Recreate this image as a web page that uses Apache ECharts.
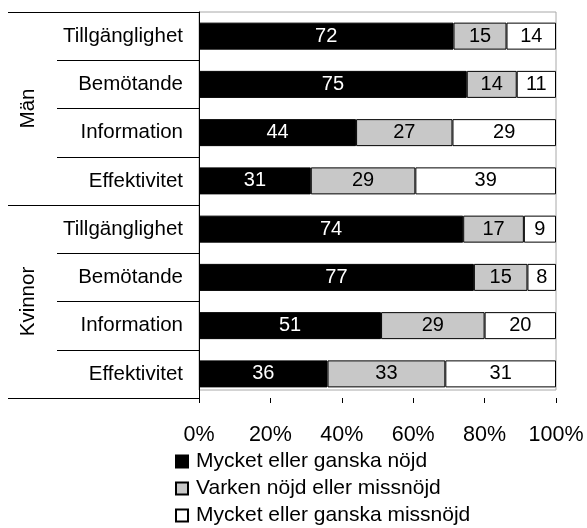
<!DOCTYPE html>
<html>
<head>
<meta charset="utf-8">
<script src="https://cdn.jsdelivr.net/npm/echarts@6/dist/echarts.min.js"></script>
<style>
  html, body { margin: 0; padding: 0; background: #fff; }
  #chart { width: 587px; height: 528px; }
</style>
</head>
<body>
<div id="chart"></div>
<script>
// Survey satisfaction by aspect, men and women (percent of respondents)
const groups = ['Män', 'Kvinnor'];
const aspects = ['Tillgänglighet', 'Bemötande', 'Information', 'Effektivitet'];
const categories = groups.flatMap(g => aspects.map(a => g + '|' + a));

const seriesNames = [
  'Mycket eller ganska nöjd',
  'Varken nöjd eller missnöjd',
  'Mycket eller ganska missnöjd'
];
const satisfied   = [72, 75, 44, 31, 74, 77, 51, 36];
const neutral     = [15, 14, 27, 29, 17, 15, 29, 33];
const dissatisfied = [14, 11, 29, 39, 9, 8, 20, 31];

const xTicks = [0, 20, 40, 60, 80, 100];

const FONT = '"Liberation Sans", Arial, Helvetica, sans-serif';
const seriesValues = [satisfied, neutral, dissatisfied];
const fills = ['#000000', '#c8c8c8', '#ffffff'];
const labelColors = ['#ffffff', '#000000', '#000000'];

// each row is shown as shares of its own total, so every bar spans 100 %
const rowTotals = categories.map((_, i) =>
  seriesValues.reduce((s, arr) => s + arr[i], 0));

const chart = echarts.init(document.getElementById('chart'), null, { renderer: 'canvas' });

chart.setOption({
  animation: false,
  backgroundColor: '#ffffff',
  textStyle: { fontFamily: FONT },
  grid: [
    { left: 199, right: 31, top: 12, bottom: 130, containLabel: false },
    { left: 199, right: 31, top: 12, bottom: 138, show: true,
      borderColor: '#a8a8a8', borderWidth: 1, backgroundColor: 'transparent' }
  ],
  legend: {
    orient: 'vertical',
    left: 175,
    top: 451,
    height: 120,
    itemWidth: 12,
    itemHeight: 12,
    itemGap: 6,
    padding: 0,
    icon: 'rect',
    textStyle: { fontFamily: FONT, fontSize: 21, color: '#000', lineHeight: 21, padding: [0, 0, 0, 3] },
    data: seriesNames
  },
  xAxis: [
    {
      type: 'value', gridIndex: 0,
      min: 0, max: 100, interval: 20,
      axisLine: { show: false },
      axisTick: { show: true, length: 5, lineStyle: { color: '#000', width: 1 } },
      splitLine: { show: false },
      axisLabel: {
        fontFamily: FONT, fontSize: 21.5, color: '#000', margin: 26,
        formatter: v => xTicks.includes(v) ? v + '%' : ''
      }
    },
    { type: 'value', gridIndex: 1, show: false }
  ],
  yAxis: [
    {
      type: 'category', gridIndex: 0, position: 'left', inverse: true,
      data: categories,
      axisLine: { show: true, lineStyle: { color: '#000', width: 1 } },
      axisTick: { show: true, length: 142, lineStyle: { color: '#000', width: 1 } },
      axisLabel: {
        fontFamily: FONT, fontSize: 20.5, color: '#000', margin: 16,
        formatter: v => v.split('|')[1]
      }
    },
    {
      type: 'category', gridIndex: 0, position: 'left', inverse: true,
      data: groups,
      axisLine: { show: false },
      axisTick: { show: true, length: 191, lineStyle: { color: '#000', width: 1 } },
      axisLabel: {
        fontFamily: FONT, fontSize: 20.5, color: '#000', margin: 160, rotate: 90
      }
    },
    { type: 'category', gridIndex: 1, show: false, data: categories }
  ],
  series: seriesValues.map((vals, k) => ({
    name: seriesNames[k],
    type: 'bar',
    stack: 'share',
    xAxisIndex: 0,
    yAxisIndex: 0,
    barWidth: 27,
    itemStyle: { color: fills[k], borderColor: '#000', borderWidth: 1 },
    label: {
      show: true,
      position: 'inside',
      fontFamily: FONT,
      fontSize: 20,
      color: labelColors[k],
      formatter: p => String(p.data.raw)
    },
    data: vals.map((v, i) => ({ value: v / rowTotals[i] * 100, raw: v }))
  }))
});
</script>
</body>
</html>
